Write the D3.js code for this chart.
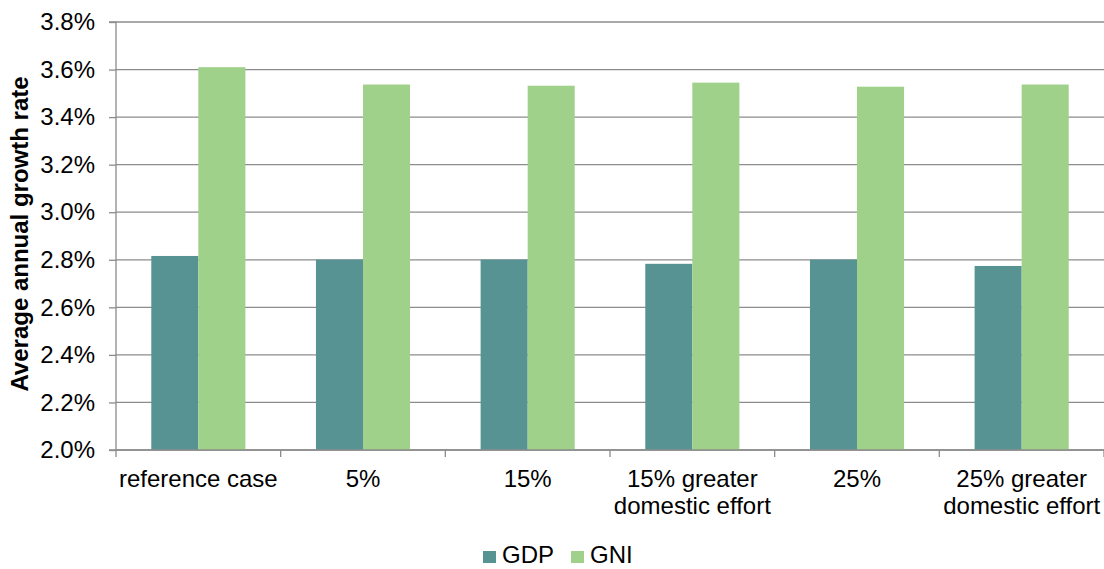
<!DOCTYPE html>
<html>
<head>
<meta charset="utf-8">
<script src="https://cdn.jsdelivr.net/npm/d3@7"></script>
<style>
  html, body { margin: 0; padding: 0; background: #fff; }
  svg { display: block; font-family: "Liberation Sans", Arial, sans-serif; }
</style>
</head>
<body>
<svg id="chart" width="1104" height="569"></svg>
<script>
// Scenario categories (label lines)
const categories = [
  ["reference case"],
  ["5%"],
  ["15%"],
  ["15% greater", "domestic effort"],
  ["25%"],
  ["25% greater", "domestic effort"]
];
const seriesNames = ["GDP", "GNI"];
// Average annual growth rate, percent
const gdp = [2.816, 2.801, 2.801, 2.783, 2.801, 2.774];
const gni = [3.610, 3.537, 3.532, 3.545, 3.528, 3.537];
const yTicks = [2.0, 2.2, 2.4, 2.6, 2.8, 3.0, 3.2, 3.4, 3.6, 3.8];
const colors = ["#579393", "#9fd18a"];

const svg = d3.select("#chart");
const margin = { left: 116, right: 0, top: 22, bottom: 119 };
const W = 1104, H = 569;
const plotW = W - margin.left - margin.right;
const plotH = H - margin.top - margin.bottom;
const fontSize = 24;

const g = svg.append("g").attr("transform", `translate(${margin.left},${margin.top})`);

const keys = categories.map((d, i) => i);
const x0 = d3.scaleBand().domain(keys).range([0, plotW]).paddingInner(0).paddingOuter(0);
const x1 = d3.scaleBand().domain(seriesNames).range([0, x0.bandwidth()])
  .paddingInner(0).paddingOuter(0.75);
const y = d3.scaleLinear().domain([2.0, 3.8]).range([plotH, 0]);

// Horizontal gridlines
g.append("g")
  .selectAll("line")
  .data(yTicks)
  .join("line")
  .attr("x1", 0).attr("x2", plotW)
  .attr("y1", d => y(d)).attr("y2", d => y(d))
  .attr("stroke", "#8c8c8c").attr("stroke-width", 1.3);

// Y axis
const yAxis = g.append("g")
  .call(d3.axisLeft(y).tickValues(yTicks).tickSize(7).tickPadding(14)
    .tickFormat(d => d.toFixed(1) + "%"));
yAxis.selectAll("path, line").attr("stroke", "#8c8c8c").attr("stroke-width", 1.3);
yAxis.select(".domain").attr("d", `M-7,${plotH}H0V0H-7`);
yAxis.selectAll("text").attr("font-size", fontSize).attr("fill", "#000")
  .attr("font-family", "'Liberation Sans', Arial, sans-serif");

// Bars
const groups = g.append("g").selectAll("g")
  .data(keys)
  .join("g")
  .attr("transform", d => `translate(${x0(d)},0)`);

groups.selectAll("rect")
  .data(i => [
    { key: "GDP", value: gdp[i] },
    { key: "GNI", value: gni[i] }
  ])
  .join("rect")
  .attr("x", d => x1(d.key))
  .attr("width", x1.bandwidth())
  .attr("y", d => y(d.value))
  .attr("height", d => plotH - y(d.value))
  .attr("fill", (d, i) => colors[i]);

// X axis with category ticks
const xAxisG = g.append("g").attr("transform", `translate(0,${plotH})`);
xAxisG.append("line")
  .attr("x1", 0).attr("x2", plotW)
  .attr("stroke", "#8c8c8c").attr("stroke-width", 1.3);
xAxisG.selectAll("line.tick")
  .data(d3.range(categories.length + 1))
  .join("line")
  .attr("class", "tick")
  .attr("x1", i => i * x0.bandwidth()).attr("x2", i => i * x0.bandwidth())
  .attr("y1", 0).attr("y2", 7)
  .attr("stroke", "#8c8c8c").attr("stroke-width", 1.3);

const labels = xAxisG.selectAll("text.cat")
  .data(keys)
  .join("text")
  .attr("class", "cat")
  .attr("text-anchor", "middle")
  .attr("font-size", fontSize)
  .attr("fill", "#000")
  .attr("transform", d => `translate(${x0(d) + x0.bandwidth() / 2},0)`);
labels.selectAll("tspan")
  .data(d => categories[d])
  .join("tspan")
  .attr("x", 0)
  .attr("y", (d, i) => 37 + i * 27)
  .text(d => d);

// Y axis title
svg.append("text")
  .attr("transform", `translate(28,234) rotate(-90)`)
  .attr("text-anchor", "middle")
  .attr("font-size", 24)
  .attr("font-weight", "bold")
  .attr("fill", "#000")
  .text("Average annual growth rate");

// Legend
const legend = svg.append("g").attr("transform", "translate(483,563)");
const legendX = [0, 88];
seriesNames.forEach((name, i) => {
  const lg = legend.append("g").attr("transform", `translate(${legendX[i]},0)`);
  lg.append("rect").attr("x", 0).attr("y", -12).attr("width", 13).attr("height", 12)
    .attr("fill", colors[i]);
  lg.append("text").attr("x", 19).attr("y", 0).attr("font-size", fontSize).attr("fill", "#000")
    .text(name);
});
</script>
</body>
</html>
